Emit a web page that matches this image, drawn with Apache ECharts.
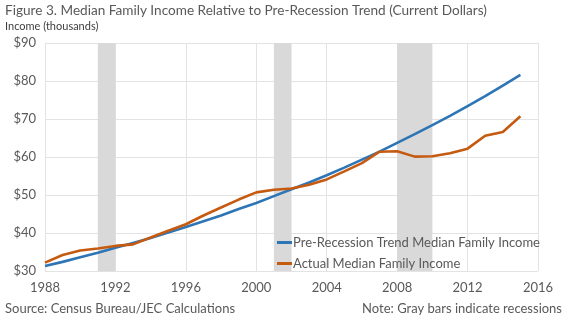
<!DOCTYPE html>
<html>
<head>
<meta charset="utf-8">
<script src="https://cdn.jsdelivr.net/npm/echarts@6/dist/echarts.min.js"></script>
<style>html,body{margin:0;padding:0;background:#fff}#c{width:570px;height:321px}</style>
</head>
<body>
<div id="c"></div>
<script>
const years = [1988,1989,1990,1991,1992,1993,1994,1995,1996,1997,1998,1999,2000,2001,2002,2003,2004,2005,2006,2007,2008,2009,2010,2011,2012,2013,2014,2015];
const trendIncome = [31.3,32.4,33.6,34.8,36.1,37.4,38.7,40.1,41.6,43.1,44.6,46.3,47.9,49.7,51.5,53.3,55.2,57.2,59.3,61.4,63.7,66.0,68.4,70.8,73.4,76.0,78.8,81.6];
const actualIncome = [32.2,34.2,35.4,35.9,36.6,37.0,38.8,40.6,42.3,44.6,46.7,48.8,50.7,51.4,51.7,52.7,54.1,56.2,58.4,61.4,61.5,60.1,60.2,61.0,62.2,65.6,66.6,70.7];
const recessions = [[1991,1992],[2001,2002],[2008,2010]];
const seriesNames = ['Pre-Recession Trend Median Family Income','Actual Median Family Income'];
const titleText = 'Figure 3. Median Family Income Relative to Pre-Recession Trend (Current Dollars)';
const axisTitle = 'Income (thousands)';
const sourceText = 'Source: Census Bureau/JEC Calculations';
const noteText = 'Note: Gray bars indicate recessions';

const FONT = 'Lato';
const chart = echarts.init(document.getElementById('c'), null, {renderer:'canvas'});
const pair = (ys, vs) => ys.map((y,i)=>[y, vs[i]]);
chart.setOption({
  animation:false,
  textStyle:{fontFamily:FONT},
  grid:{left:45, right:32, top:43, bottom:50},
  xAxis:{type:'value', min:1988, max:2016, interval:4,
    axisLine:{show:false}, axisTick:{show:false},
    axisLabel:{color:'#595959', fontSize:13, fontFamily:FONT, margin:10, formatter:v=>String(v)},
    splitLine:{show:true, lineStyle:{color:'#e3e3e3', width:1}}},
  yAxis:{type:'value', min:30, max:90, interval:10,
    axisLine:{show:false}, axisTick:{show:false},
    axisLabel:{color:'#595959', fontSize:13, fontFamily:FONT, margin:9, formatter:v=>'$'+v},
    splitLine:{show:true, lineStyle:{color:'#e3e3e3', width:1}}},
  legend:{orient:'vertical', left:272, top:231, itemWidth:15, itemHeight:3, itemGap:8,
    icon:'rect', textStyle:{color:'#595959', fontSize:13, fontFamily:FONT, padding:[0,0,0,-4]},
    data:seriesNames},
  graphic:[
    {type:'text', left:5, top:4, style:{text:titleText, fill:'#595959', font:'13.6px '+FONT}},
    {type:'text', left:5, top:21, style:{text:axisTitle, fill:'#404040', font:'11px '+FONT}},
    {type:'text', left:5, top:302, style:{text:sourceText, fill:'#595959', font:'13px '+FONT}},
    {type:'text', right:8, top:302, style:{text:noteText, fill:'#595959', font:'13px '+FONT}}
  ],
  series:[
    {name:seriesNames[0], type:'line', data:pair(years,trendIncome), symbol:'none',
      lineStyle:{color:'#2E75B6', width:2.6}, itemStyle:{color:'#2E75B6'}, z:3,
      markArea:{silent:true, itemStyle:{color:'#d9d9d9'},
        data:recessions.map(r=>[{xAxis:r[0]},{xAxis:r[1]}])}},
    {name:seriesNames[1], type:'line', data:pair(years,actualIncome), symbol:'none',
      lineStyle:{color:'#C55A11', width:2.6}, itemStyle:{color:'#C55A11'}, z:3}
  ]
});
</script>
</body>
</html>
